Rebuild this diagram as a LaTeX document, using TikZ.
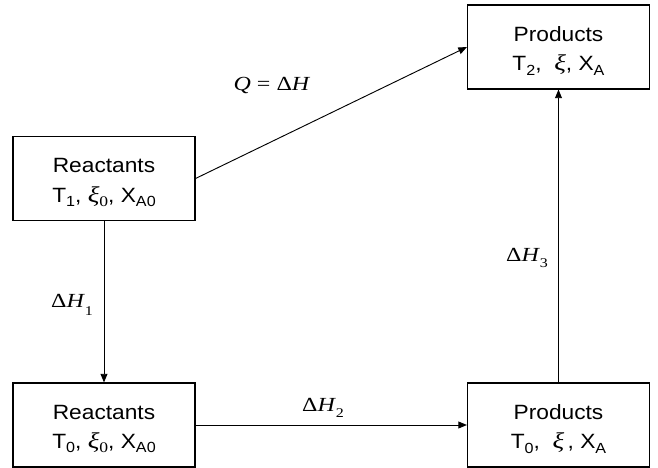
\documentclass[tikz,border=0pt]{standalone}
\usepackage{fontspec}
\setmainfont{Liberation Sans}[FakeStretch=1.1]
\newfontfamily\lserif{Liberation Serif}[FakeStretch=1.2]
\usetikzlibrary{arrows.meta}
\newcommand\sbsans[1]{\raisebox{-0.4ex}{\fontsize{11}{11}\selectfont #1}}
\newcommand\sbserif[1]{\raisebox{-0.4ex}{\lserif\fontsize{11}{11}\selectfont #1}}
\newcommand\xiit{{\lserif\itshape\fontsize{17}{17}\selectfont ξ}}
\newcommand\dH[2]{{\lserif Δ\textit{H}\raisebox{#2}{\fontsize{10}{10}\selectfont #1}}}
\tikzset{
  box/.style={draw, line width=0.8pt, minimum width=136.5pt, minimum height=63pt, inner sep=0pt},
  txt/.style={inner sep=0pt, align=center, font=\fontsize{15.5}{22}\selectfont},
  conn/.style={line width=0.7pt, -{Triangle[length=6.5pt,width=5.2pt]}},
  lbl/.style={inner sep=0pt, font=\fontsize{15}{15}\selectfont}
}
\begin{document}
\begin{tikzpicture}[x=0.75pt,y=-0.75pt]
\useasboundingbox (0,0) rectangle (658,468);
\node[box] (r1) at (104,178.5) {};
\node[box] (r0) at (104,425) {};
\node[box] (p2) at (558.5,47) {};
\node[box] (p0) at (558.5,425) {};
\node[txt] (r1t) at (104,182.5) {Reactants\\T\sbsans{1}, \xiit\sbserif{0}, X\sbsans{A0}};
\node[txt] (r0t) at (104,429) {Reactants\\T\sbsans{0}, \xiit\sbserif{0}, X\sbsans{A0}};
\node[txt] (p2t) at (558.5,51) {Products\\T\sbsans{2},\ \ \xiit, X\sbsans{A}};
\node[txt] (p0t) at (558.5,429) {Products\\T\sbsans{0},\ \ \xiit\,, X\sbsans{A}};
\draw[conn] (r1.east) -- (p2.west);
\draw[conn] (r1.south) -- (r0.north);
\draw[conn] (r0.east) -- (p0.west);
\draw[conn] (p0.north) -- (p2.south);
\node[lbl] (lq) at (272,85) {{\lserif\textit{Q} = Δ\textit{H}}};
\node[lbl] (l1) at (72,305) {\dH{1}{-5.5pt}};
\node[lbl] (l2) at (323,408) {\dH{2}{-4pt}};
\node[lbl] (l3) at (527,258) {\dH{3}{-4pt}};
\end{tikzpicture}
\end{document}
